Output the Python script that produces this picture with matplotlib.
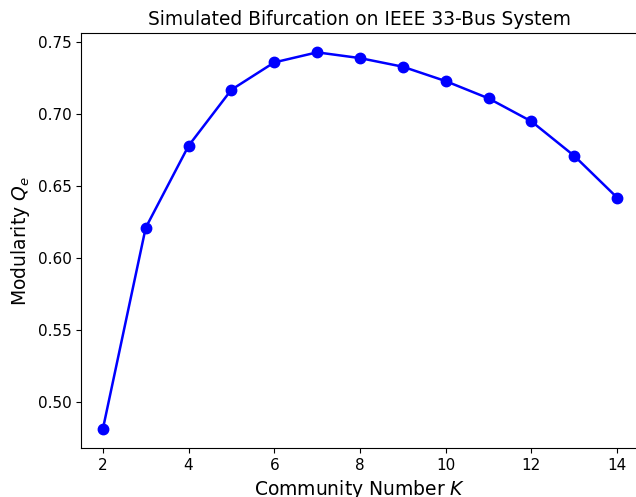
import matplotlib
matplotlib.use("Agg")
import matplotlib.pyplot as plt

K = [2, 3, 4, 5, 6, 7, 8, 9, 10, 11, 12, 13, 14]
Q = [0.481, 0.621, 0.678, 0.717, 0.736, 0.743, 0.739, 0.733, 0.723, 0.711, 0.695, 0.671, 0.642]
xticks = [2, 4, 6, 8, 10, 12, 14]

fig = plt.figure(figsize=(6.36, 4.97), dpi=100)
ax = fig.add_axes([0.128, 0.0986, 0.876, 0.834])
ax.plot(K, Q, color='blue', marker='o', markersize=7.5, linewidth=1.8)
ax.set_xlim(1.5, 14.5)
ax.set_xticks(xticks)
ax.spines['right'].set_visible(False)
ax.set_title('Simulated Bifurcation on IEEE 33-Bus System', fontsize=13.4)
ax.set_xlabel('Community Number $K$', fontsize=13.5)
ax.set_ylabel('Modularity $Q_e$', fontsize=13.5)
ax.tick_params(labelsize=11)
fig.savefig('out.png', dpi=100)
